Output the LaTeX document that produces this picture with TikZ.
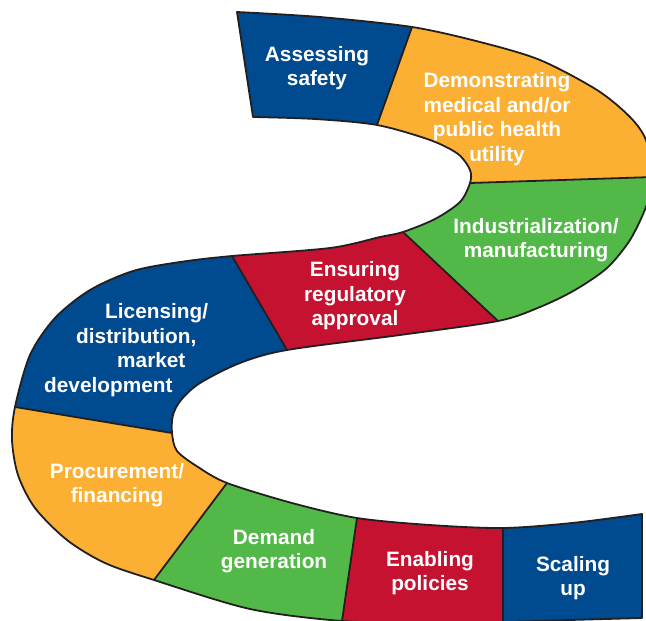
\documentclass[tikz,border=0pt]{standalone}
\usepackage{fontspec}
\setsansfont{Liberation Sans}
\usepackage{tikz}

\definecolor{segblue}{RGB}{0,74,143}
\definecolor{segorange}{RGB}{251,176,52}
\definecolor{seggreen}{RGB}{82,185,72}
\definecolor{segred}{RGB}{196,18,48}
\definecolor{rim}{RGB}{35,31,32}

% the whole band, one side (a) out and the other side (b) back
\newcommand{\snakeband}{%
  plot[smooth, tension=0.5] coordinates {(startA) (320,17) (cut1a) (480,42) (540,60) (597,90) (630,117) (646,140) (cut2a) (646,207) (630,240) (607,268) (575,290) (540,307) (cut3a) (400,335) (cut4a) (240,363) (200,383) (181,400) (173,415) (cut5a) (177,451) (198,467) (cut6a) (292,503) (cut7a) (430,525) (cut8a) (572,523) (endA)}
  -- plot[smooth, tension=0.5] coordinates {(endB) (570,620) (cut8b) (430,623) (cut7b) (250,609) (cut6b) (105,563) (67,540) (35,508) (18,475) (12,440) (cut5b) (30,355) (55,318) (90,290) (133,271) (180,262) (cut4b) (330,248) (380,237) (cut3b) (435,219) (460,202) (cut2b) (470,170) (458,154) (430,140) (cut1b) (315,119) (startB)}
  -- cycle}

\begin{document}
\begin{tikzpicture}[
    x=1pt, y=-1pt,
    rimline/.style={draw=rim, line width=1.8pt, line join=round},
    steplabel/.style={text=white, font=\sffamily\bfseries\fontsize{20.8}{24.6}\selectfont, align=center, inner sep=0pt}
]
\useasboundingbox (0,0) rectangle (646,621);

% ----------------------------
% Cut points on both rims
% ----------------------------
\coordinate (startA) at (237,12);  \coordinate (startB) at (253,117);
\coordinate (cut1a) at (412,27);   \coordinate (cut1b) at (377,125);
\coordinate (cut2a) at (654,177);  \coordinate (cut2b) at (470,183);
\coordinate (cut3a) at (498,321);  \coordinate (cut3b) at (403,232);
\coordinate (cut4a) at (287,350);  \coordinate (cut4b) at (232,256);
\coordinate (cut5a) at (172,433);  \coordinate (cut5b) at (15,407);
\coordinate (cut6a) at (227,483);  \coordinate (cut6b) at (154,580);
\coordinate (cut7a) at (357,518);  \coordinate (cut7b) at (342,621);
\coordinate (cut8a) at (503,528);  \coordinate (cut8b) at (503,622);
\coordinate (endA) at (642,514);   \coordinate (endB) at (642,618);

% ----------------------------
% Segments
% ----------------------------
\begin{scope}
  \clip (200,-6) -- (424,-6) -- (365,159) -- (200,159) -- cycle;
  \fill[segblue] \snakeband;
\end{scope}
\begin{scope}
  \clip (424,-6) -- (670,-6) -- (670,176.5) -- (450,183.7) -- (365,159) -- cycle;
  \fill[segorange] \snakeband;
\end{scope}
\begin{scope}
  \clip (450,183.7) -- (670,176.5) -- (670,360) -- (520,342) -- (389,219) -- cycle;
  \fill[seggreen] \snakeband;
\end{scope}
\begin{scope}
  \clip (389,219) -- (520,342) -- (300,372) -- (220,235) -- cycle;
  \fill[segred] \snakeband;
\end{scope}
\begin{scope}
  \clip (220,235) -- (300,372) -- (200,438) -- (-15,402) -- (-15,235) -- cycle;
  \fill[segblue] \snakeband;
\end{scope}
\begin{scope}
  \clip (-15,402) -- (200,438) -- (240,466) -- (139,600) -- (-15,600) -- cycle;
  \fill[segorange] \snakeband;
\end{scope}
\begin{scope}
  \clip (240,466) -- (360,497) -- (339,645) -- (139,645) -- (139,600) -- cycle;
  \fill[seggreen] \snakeband;
\end{scope}
\begin{scope}
  \clip (360,497) -- (503,497) -- (503,645) -- (339,645) -- cycle;
  \fill[segred] \snakeband;
\end{scope}
\begin{scope}
  \clip (503,497) -- (670,497) -- (670,645) -- (503,645) -- cycle;
  \fill[segblue] \snakeband;
\end{scope}

% ----------------------------
% Dividers and rim
% ----------------------------
\draw[rimline] (cut1a) -- (cut1b);
\draw[rimline] (cut2a) -- (cut2b);
\draw[rimline] (cut3a) -- (cut3b);
\draw[rimline] (cut4a) -- (cut4b);
\draw[rimline] (cut5a) -- (cut5b);
\draw[rimline] (cut6a) -- (cut6b);
\draw[rimline] (cut7a) -- (cut7b);
\draw[rimline] (cut8a) -- (cut8b);
\draw[rimline] \snakeband;

% ----------------------------
% Labels
% ----------------------------
\node[steplabel] (safety) at (317,68) {Assessing\\safety};
\node[steplabel] (utility) at (497,119) {Demonstrating\\medical and/or\\public health\\utility};
\node[steplabel] (industry) at (536,240) {Industrialization/\\manufacturing};
\node[steplabel] (approval) at (355,296) {Ensuring\\regulatory\\approval};
\node[steplabel, align=left, anchor=west] (licensing) at (44,350)
  {\hspace*{61pt}Licensing/\\\hspace*{32pt}distribution,\\\hspace*{73pt}market\\development};
\node[steplabel] (procurement) at (117,485) {Procurement/\\financing};
\node[steplabel] (demand) at (274,551) {Demand\\generation};
\node[steplabel] (policies) at (430,573) {Enabling\\policies};
\node[steplabel] (scaling) at (573,578) {Scaling\\up};

\end{tikzpicture}
\end{document}
